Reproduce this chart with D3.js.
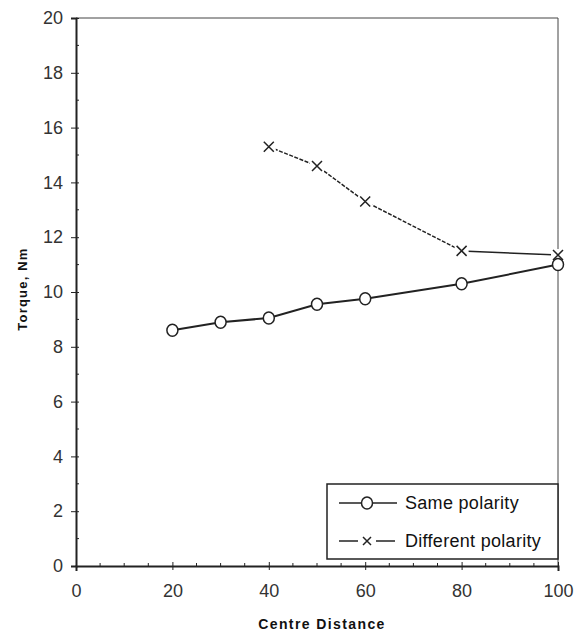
<!DOCTYPE html>
<html><head><meta charset="utf-8">
<script src="https://cdn.jsdelivr.net/npm/d3@7"></script>
<style>body{margin:0;background:#fff}svg{display:block}</style>
</head><body>
<script>
const samePolarityX = [20, 30, 40, 50, 60, 80, 100];
const samePolarityY = [8.6, 8.9, 9.05, 9.55, 9.75, 10.3, 11.0];
const diffPolarityX = [40, 50, 60, 80, 100];
const diffPolarityY = [15.3, 14.6, 13.3, 11.5, 11.35];
const xTicks = [0, 20, 40, 60, 80, 100];
const yTicks = [0, 2, 4, 6, 8, 10, 12, 14, 16, 18, 20];
const seriesNames = ["Same polarity", "Different polarity"];

const W = 577, H = 631;
const svg = d3.select("body").append("svg").attr("width", W).attr("height", H);
const x = d3.scaleLinear().domain([0, 100]).range([76, 558]);
const y = d3.scaleLinear().domain([0, 20]).range([566, 18]);
const font = "'Liberation Sans', Arial, sans-serif";

// frame top & right
svg.append("line").attr("x1", x(0)).attr("x2", x(100)).attr("y1", y(20)).attr("y2", y(20)).attr("stroke", "#444").attr("stroke-width", 1);
svg.append("line").attr("x1", x(100)).attr("x2", x(100)).attr("y1", y(20)).attr("y2", y(0)).attr("stroke", "#444").attr("stroke-width", 1);

// Y axis
const yAxis = svg.append("g").attr("transform", `translate(${x(0)},0)`)
  .call(d3.axisLeft(y).tickValues(yTicks).tickSize(5).tickPadding(8));
yAxis.select(".domain").attr("stroke", "#222").attr("stroke-width", 2);
yAxis.selectAll(".tick line").attr("stroke", "#222").attr("x2", -5).attr("x1", 3);
yAxis.selectAll(".tick text").attr("font-family", font).attr("font-size", 18).attr("fill", "#333");
// y minor ticks
svg.append("g").selectAll("line").data(d3.range(1, 20, 2)).join("line")
  .attr("x1", x(0)).attr("x2", x(0) + 3).attr("y1", d => y(d)).attr("y2", d => y(d))
  .attr("stroke", "#222").attr("stroke-width", 1);

// X axis
const xAxis = svg.append("g").attr("transform", `translate(0,${y(0)})`)
  .call(d3.axisBottom(x).tickValues(xTicks).tickSize(5).tickPadding(13));
xAxis.select(".domain").attr("stroke", "#222").attr("stroke-width", 2);
xAxis.selectAll(".tick line").attr("stroke", "#222").attr("y1", -4).attr("y2", 4);
xAxis.selectAll(".tick text").attr("font-family", font).attr("font-size", 18).attr("fill", "#333");
svg.append("g").selectAll("line").data(d3.range(5, 100, 5).filter(d => d % 20 !== 0)).join("line")
  .attr("x1", d => x(d)).attr("x2", d => x(d)).attr("y1", y(0)).attr("y2", y(0) - 3)
  .attr("stroke", "#222").attr("stroke-width", 1);

// axis titles
svg.append("text").attr("x", 322).attr("y", 629).attr("text-anchor", "middle")
  .attr("font-family", font).attr("font-weight", "bold").attr("font-size", 14).attr("letter-spacing", 1.4)
  .attr("fill", "#111").text("Centre Distance");
svg.append("text").attr("transform", "translate(27,289) rotate(-90)").attr("text-anchor", "middle")
  .attr("font-family", font).attr("font-weight", "bold").attr("font-size", 13).attr("letter-spacing", 1.2)
  .attr("fill", "#111").text("Torque, Nm");

// series
const same = samePolarityX.map((v, i) => [v, samePolarityY[i]]);
const diff = diffPolarityX.map((v, i) => [v, diffPolarityY[i]]);
const line = d3.line().x(d => x(d[0])).y(d => y(d[1]));

svg.append("path").attr("d", line(diff.slice(0, 4))).attr("fill", "none").attr("stroke", "#222")
  .attr("stroke-width", 1.5).attr("stroke-dasharray", "4,1.5");
svg.append("path").attr("d", line(diff.slice(3))).attr("fill", "none").attr("stroke", "#222")
  .attr("stroke-width", 1.5);
svg.append("path").attr("d", line(same)).attr("fill", "none").attr("stroke", "#222").attr("stroke-width", 2);

function cross(g, cx, cy, s) {
  g.append("path").attr("d", `M${cx - s},${cy - s}L${cx + s},${cy + s}M${cx - s},${cy + s}L${cx + s},${cy - s}`)
    .attr("stroke", "#222").attr("stroke-width", 1.5).attr("fill", "none");
}
const gd = svg.append("g");
diff.forEach(d => { gd.append("rect").attr("x", x(d[0]) - 7).attr("y", y(d[1]) - 6).attr("width", 14).attr("height", 12).attr("fill", "#fff"); cross(gd, x(d[0]), y(d[1]), 5); });
svg.append("g").selectAll("ellipse").data(same).join("ellipse")
  .attr("cx", d => x(d[0])).attr("cy", d => y(d[1])).attr("rx", 5.5).attr("ry", 6)
  .attr("fill", "#fff").attr("stroke", "#222").attr("stroke-width", 1.5);

// legend
const lg = svg.append("g");
lg.append("rect").attr("x", 327).attr("y", 484).attr("width", 231).attr("height", 75)
  .attr("fill", "#fff").attr("stroke", "#222").attr("stroke-width", 1.5);
const rows = [503, 541];
lg.append("line").attr("x1", 339).attr("x2", 397).attr("y1", rows[0]).attr("y2", rows[0]).attr("stroke", "#222").attr("stroke-width", 1.5);
lg.append("ellipse").attr("cx", 367).attr("cy", rows[0]).attr("rx", 5.5).attr("ry", 6).attr("fill", "#fff").attr("stroke", "#222").attr("stroke-width", 1.5);
lg.append("line").attr("x1", 339).attr("x2", 358).attr("y1", rows[1]).attr("y2", rows[1]).attr("stroke", "#222").attr("stroke-width", 1.5);
lg.append("line").attr("x1", 376).attr("x2", 395).attr("y1", rows[1]).attr("y2", rows[1]).attr("stroke", "#222").attr("stroke-width", 1.5);
cross(lg, 367, rows[1], 4);
lg.selectAll("text").data(seriesNames).join("text")
  .attr("x", 405).attr("y", (d, i) => rows[i] + 6)
  .attr("font-family", font).attr("font-size", 18).attr("letter-spacing", 0.3).attr("fill", "#111").text(d => d);
</script>
</body></html>
